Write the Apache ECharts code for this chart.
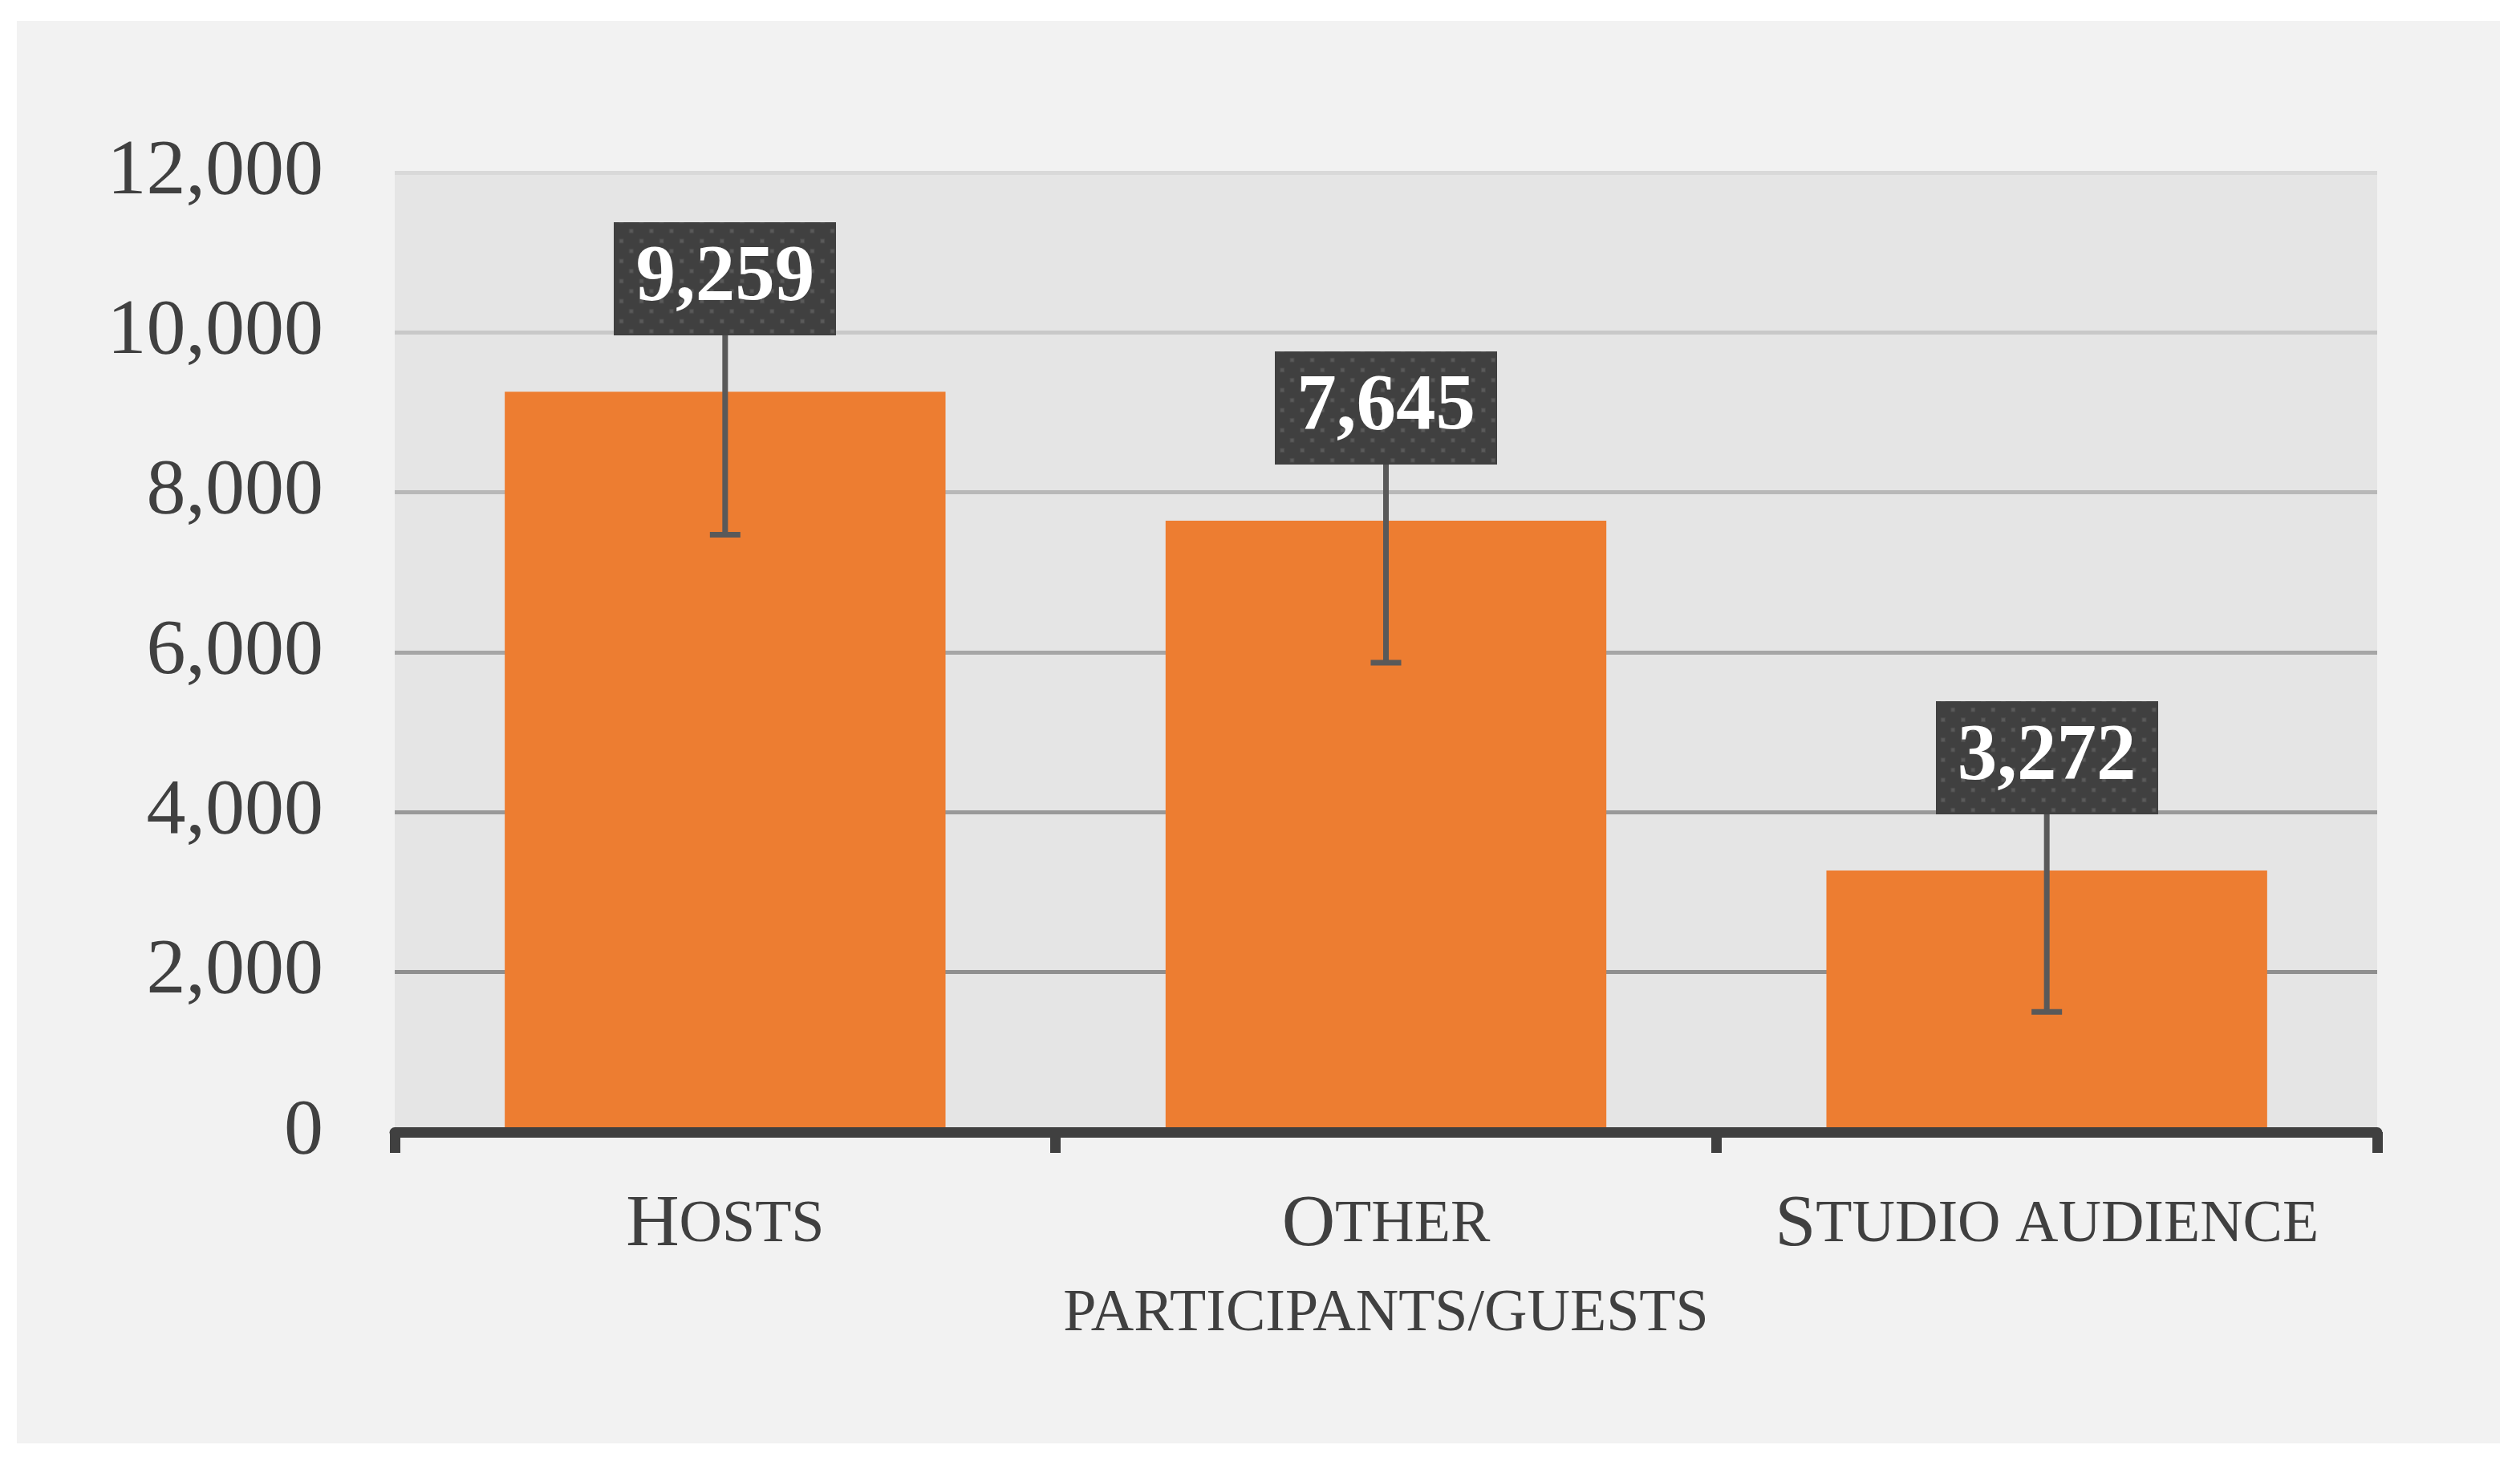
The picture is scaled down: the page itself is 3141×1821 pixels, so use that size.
<!DOCTYPE html>
<html>
<head>
<meta charset="utf-8">
<script src="https://cdn.jsdelivr.net/npm/echarts@6/dist/echarts.min.js"></script>
<style>
  html, body { margin: 0; padding: 0; background: #ffffff; }
  #chart { position: absolute; left: 21px; top: 26px; width: 3095px; height: 1773px; background: #f2f2f2; }
</style>
</head>
<body>
<div id="chart"></div>
<script>
// ---- data ----
const categories = ['Hosts', 'Other\nparticipants/guests', 'Studio audience'];
const values = [9259, 7645, 3272];
const errors = [1790, 1775, 1770];
const yMin = 0;
const yMax = 12000;
const yInterval = 2000;

// ---- helpers ----
const SERIF = '"Liberation Serif", "Times New Roman", serif';

function smallCaps(label) {
  // Render a label in small caps using rich text runs
  return label.split('\n').map(function (line) {
    let out = '';
    let run = '';
    let runStyle = null;
    for (const ch of line) {
      const st = (ch >= 'A' && ch <= 'Z') ? 'b' : 's';
      if (st !== runStyle && run) { out += '{' + runStyle + '|' + run + '}'; run = ''; }
      runStyle = st;
      run += ch.toUpperCase();
    }
    if (run) out += '{' + runStyle + '|' + run + '}';
    return out;
  }).join('\n');
}

function makePattern(w, h) {
  const c = document.createElement('canvas');
  c.width = w; c.height = h;
  const g = c.getContext('2d');
  g.fillStyle = '#404040';
  g.fillRect(0, 0, w, h);
  for (let r = 0; -1.8 + r * 12.5 < h + 5; r++) {
    const y = -1.8 + r * 12.5;
    const x0 = (r % 2 === 1) ? -3.7 : 9;
    for (let x = x0; x < w + 5; x += 25) {
      g.fillStyle = '#4b4b4b';
      g.fillRect(x - 3, y - 3, 6, 6);
      g.fillStyle = '#5a5a5a';
      g.fillRect(x - 2, y - 2, 4, 4);
    }
  }
  return c;
}
const pattern = makePattern(276, 141);

const chart = echarts.init(document.getElementById('chart'), null, { renderer: 'canvas' });

const option = {
  animation: false,
  backgroundColor: '#f2f2f2',
  grid: {
    left: 471, top: 189, width: 2471, height: 1196,
    show: true, backgroundColor: '#e5e5e5', borderWidth: 0
  },
  xAxis: {
    type: 'category',
    data: categories,
    axisLine: { show: true, lineStyle: { color: '#404040', width: 13 } },
    axisTick: { show: true, length: 26, lineStyle: { color: '#404040', width: 13 } },
    axisLabel: {
      margin: 61,
      formatter: function (v) { return smallCaps(v); },
      color: '#404040',
      rich: {
        b: { fontFamily: SERIF, fontSize: 92, lineHeight: 111, color: '#404040' },
        s: { fontFamily: SERIF, fontSize: 74, lineHeight: 111, color: '#404040' }
      }
    },
    z: 5
  },
  yAxis: {
    type: 'value',
    min: yMin, max: yMax, interval: yInterval,
    axisLine: { show: false },
    axisTick: { show: false },
    axisLabel: {
      margin: 89,
      fontFamily: SERIF, fontSize: 98, color: '#404040',
      formatter: function (v) { return v.toLocaleString('en-US'); }
    },
    splitLine: {
      show: true,
      lineStyle: {
        width: 5,
        color: ['#8c8c8c', '#8f8f8f', '#999999', '#a6a6a6', '#b8b8b8', '#c8c8c8', '#d9d9d9']
      }
    }
  },
  series: [
    {
      type: 'bar',
      data: values,
      barWidth: '66.7%',
      itemStyle: { color: '#ed7d31' },
      z: 2
    },
    {
      type: 'custom',
      z: 3,
      data: values.map(function (v, i) { return [i, v, errors[i]]; }),
      renderItem: function (params, api) {
        const i = api.value(0), v = api.value(1), e = api.value(2);
        const hi = api.coord([i, v + e]);
        const lo = api.coord([i, v - e]);
        const half = 19;
        const st = { stroke: '#595959', lineWidth: 7, lineCap: 'butt' };
        return {
          type: 'group',
          children: [
            { type: 'line', shape: { x1: hi[0], y1: hi[1], x2: lo[0], y2: lo[1] }, style: st },
            { type: 'line', shape: { x1: lo[0] - half, y1: lo[1], x2: lo[0] + half, y2: lo[1] }, style: st },
            { type: 'line', shape: { x1: hi[0] - half, y1: hi[1], x2: hi[0] + half, y2: hi[1] }, style: st }
          ]
        };
      }
    },
    {
      type: 'custom',
      z: 4,
      data: values.map(function (v, i) { return [i, v]; }),
      renderItem: function (params, api) {
        const i = api.value(0), v = api.value(1);
        const p = api.coord([i, v]);
        return {
          type: 'text',
          x: p[0],
          y: p[1] - 70,
          style: {
            text: v.toLocaleString('en-US'),
            fill: '#ffffff',
            fontFamily: SERIF,
            fontWeight: 'bold',
            fontSize: 99,
            lineHeight: 99,
            align: 'center',
            verticalAlign: 'bottom',
            backgroundColor: { image: pattern },
            padding: [21, 27, 21, 27]
          }
        };
      }
    }
  ]
};

chart.setOption(option);
</script>
</body>
</html>
